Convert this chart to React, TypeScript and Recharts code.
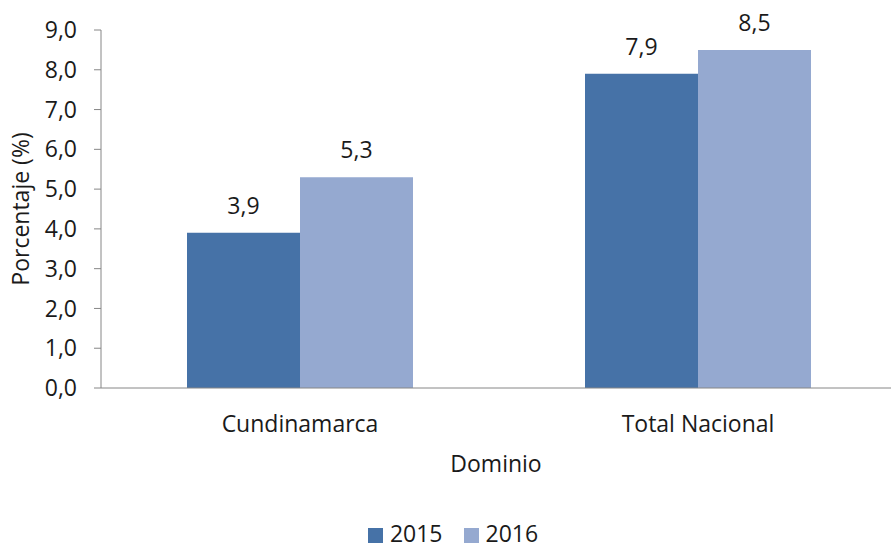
import { Bar, BarChart, LabelList, Legend, XAxis, YAxis } from "recharts";

const dominios = ["Cundinamarca", "Total Nacional"];
const valores2015 = [3.9, 7.9];
const valores2016 = [5.3, 8.5];
const yTicks = [0, 1, 2, 3, 4, 5, 6, 7, 8, 9];
const edgeTicks = [0, 1, 2];

const data = dominios.map((dominio, i) => ({
  dominio,
  edge: i,
  "2015": valores2015[i],
  "2016": valores2016[i],
}));

const FONT = "'Open Sans', sans-serif";
const SIZE = 23;
const TEXT = "#1a1a1a";
const AXIS = "#868686";
const fmt = (v: number) => v.toFixed(1).replace(".", ",");

export default function App() {
  return (
    <div
      style={{
        position: "absolute",
        left: 0,
        top: 0,
        width: 891,
        height: 546,
        overflow: "hidden",
        background: "#fff",
        fontFamily: FONT,
      }}
    >
      <BarChart
        width={900}
        height={546}
        data={data}
        margin={{ top: 30, right: 3, left: 0, bottom: 0 }}
        barCategoryGap={86}
        barGap={0}
      >
        <XAxis
          xAxisId="edges"
          type="number"
          dataKey="edge"
          domain={[0, 2]}
          ticks={edgeTicks}
          height={0}
          axisLine={false}
          tickLine={{ stroke: AXIS }}
          tickSize={7}
          tickFormatter={() => ""}
        />
        <XAxis
          dataKey="dominio"
          height={134}
          axisLine={{ stroke: AXIS }}
          tickLine={false}
          tickSize={0}
          tickMargin={28}
          tick={{ fill: TEXT, fontSize: SIZE, fontFamily: FONT }}
          label={{
            value: "Dominio",
            position: "insideBottom",
            offset: 50,
            dx: -3,
            fill: TEXT,
            fontSize: SIZE,
            fontFamily: FONT,
          }}
        />
        <YAxis
          width={101}
          domain={[0, 9]}
          ticks={yTicks}
          tickFormatter={fmt}
          axisLine={{ stroke: AXIS }}
          tickLine={{ stroke: AXIS }}
          tickSize={7}
          tickMargin={17}
          tick={{ fill: TEXT, fontSize: SIZE, fontFamily: FONT }}
          label={{
            value: "Porcentaje (%)",
            angle: -90,
            position: "insideLeft",
            offset: 21,
            fill: TEXT,
            fontSize: SIZE,
            fontFamily: FONT,
            textAnchor: "middle",
          }}
        />
        <Legend
          verticalAlign="bottom"
          align="center"
          iconType="square"
          iconSize={15}
          wrapperStyle={{
            fontSize: SIZE,
            fontFamily: FONT,
            lineHeight: "24px",
            bottom: 1,
            paddingLeft: 15,
          }}
          formatter={(value) => (
            <span style={{ color: TEXT, marginLeft: 3, marginRight: 11 }}>{value}</span>
          )}
        />
        <Bar dataKey="2015" fill="#4672A7" isAnimationActive={false}>
          <LabelList
            dataKey="2015"
            position="top"
            offset={19}
            formatter={(v: number) => fmt(v)}
            style={{ fill: TEXT, fontSize: SIZE, fontFamily: FONT }}
          />
        </Bar>
        <Bar dataKey="2016" fill="#95A9D0" isAnimationActive={false}>
          <LabelList
            dataKey="2016"
            position="top"
            offset={19}
            formatter={(v: number) => fmt(v)}
            style={{ fill: TEXT, fontSize: SIZE, fontFamily: FONT }}
          />
        </Bar>
      </BarChart>
    </div>
  );
}
